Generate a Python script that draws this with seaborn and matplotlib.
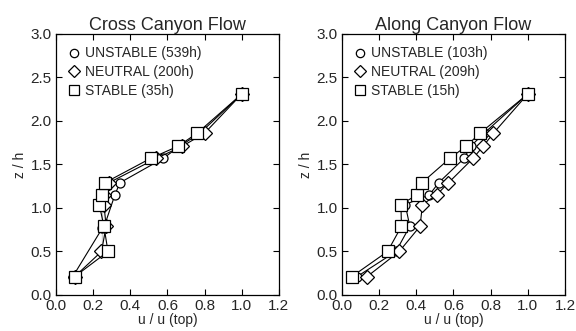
import matplotlib
matplotlib.use("Agg")
import matplotlib.pyplot as plt
from matplotlib.lines import Line2D
import seaborn as sns
import pandas as pd

z = [0.21, 0.50, 0.79, 1.04, 1.15, 1.29, 1.57, 1.71, 1.86, 2.31]

cross_unstable = [0.09, 0.25, 0.26, 0.25, 0.317, 0.344, 0.577, 0.666, 0.775, 1.0]
cross_neutral = [0.10, 0.245, 0.27, 0.258, 0.26, 0.285, 0.54, 0.68, 0.80, 1.0]
cross_stable = [0.10, 0.28, 0.258, 0.233, 0.25, 0.263, 0.509, 0.657, 0.76, 1.0]

along_unstable = [0.08, 0.29, 0.365, 0.34, 0.47, 0.52, 0.657, 0.693, 0.765, 1.0]
along_neutral = [0.134, 0.308, 0.42, 0.433, 0.509, 0.573, 0.705, 0.76, 0.815, 1.0]
along_stable = [0.052, 0.245, 0.32, 0.317, 0.403, 0.43, 0.58, 0.668, 0.743, 1.0]

titles = ["Cross Canyon Flow", "Along Canyon Flow"]
cross_labels = ["UNSTABLE (539h)", "NEUTRAL (200h)", "STABLE (35h)"]
along_labels = ["UNSTABLE (103h)", "NEUTRAL (209h)", "STABLE (15h)"]
xticks = [0.0, 0.2, 0.4, 0.6, 0.8, 1.0, 1.2]
yticks = [0.0, 0.5, 1.0, 1.5, 2.0, 2.5, 3.0]

sns.set_style("ticks")
plt.rcParams['font.family'] = ['Liberation Sans', 'DejaVu Sans']

fig = plt.figure(figsize=(5.76, 3.31), dpi=100)
axes = [fig.add_axes([0.0972, 0.1088, 0.387, 0.7885]),
        fig.add_axes([0.5938, 0.1088, 0.387, 0.7885])]

markers = ['o', 'D', 's']
msizes = [6.5, 7, 8]

panels = [(cross_labels, [cross_unstable, cross_neutral, cross_stable]),
          (along_labels, [along_unstable, along_neutral, along_stable])]

for ax, title, (labels, series) in zip(axes, titles, panels):
    handles = []
    for lab, vals, m, ms in zip(labels, series, markers, msizes):
        df = pd.DataFrame({"u": vals, "z": z})
        sns.lineplot(data=df, x="u", y="z", sort=False, ax=ax, color="black",
                     linewidth=0.8, marker=m, markersize=ms,
                     markerfacecolor="white", markeredgecolor="black",
                     markeredgewidth=0.9, legend=False)
        handles.append(Line2D([], [], linestyle="none", marker=m, markersize=ms - 0.5,
                              markerfacecolor="white", markeredgecolor="black",
                              markeredgewidth=0.9, label=lab))
    ax.set_xlim(0, 1.2)
    ax.set_ylim(0, 3.0)
    ax.set_xticks(xticks)
    ax.set_yticks(yticks)
    ax.set_xticklabels([f"{t:.1f}" for t in xticks])
    ax.set_yticklabels([f"{t:.1f}" for t in yticks])
    ax.tick_params(direction="in", top=True, right=True, length=4, width=0.8,
                   labelsize=11, pad=3, color="black")
    for s in ax.spines.values():
        s.set_linewidth(0.9)
        s.set_color("black")
    ax.set_xlabel("u / u (top)", fontsize=10, labelpad=0)
    ax.set_ylabel("z / h", fontsize=10, labelpad=3)
    ax.set_title(title, fontsize=13, pad=3)
    ax.legend(handles=handles, loc="upper left", frameon=False, fontsize=10,
              handlelength=0.8, handletextpad=0.4, labelspacing=0.33,
              borderaxespad=0.6, borderpad=0.3)

fig.savefig("out.png", dpi=100)
